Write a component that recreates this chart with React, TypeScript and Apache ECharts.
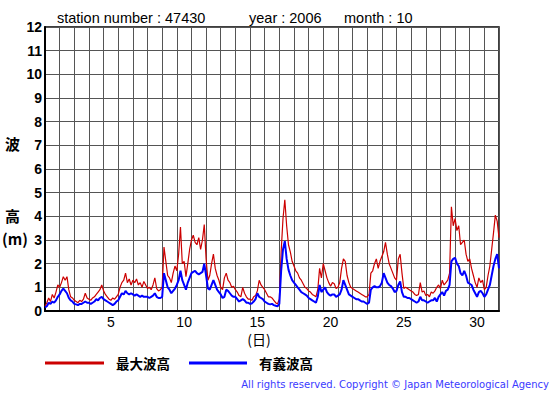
import React, { useEffect, useRef } from "react";
import * as echarts from "echarts";

// Day categories (1..31) for the x axis
const dayLabels = [
  "1","2","3","4","5","6","7","8","9","10","11","12","13","14","15","16",
  "17","18","19","20","21","22","23","24","25","26","27","28","29","30","31",
];

// samples every 3 hours (8 per day), last value = end of the month
const stepsPerDay = 8;

// 最大波高 (max wave height, m)
const maxWave = [
  0.2, 0.35, 0.55, 0.4, 0.7, 0.55, 0.8, 1.1,
  1.0, 1.2, 1.45, 1.3, 1.45, 0.9, 0.6, 0.55,
  0.45, 0.4, 0.35, 0.45, 0.4, 0.5, 0.75, 0.55,
  0.5, 0.45, 0.55, 0.6, 0.7, 0.8, 0.9, 1.1,
  0.85, 0.7, 0.6, 0.5, 0.45, 0.55, 0.5, 0.6,
  0.7, 1.0, 1.2, 1.3, 1.6, 1.2, 1.35, 1.1,
  1.3, 1.2, 1.35, 1.1, 1.2, 1.0, 1.25, 1.1,
  0.95, 1.0, 0.9, 1.1, 1.4, 0.95, 0.85, 0.9,
  1.0, 2.7, 2.1, 1.5, 1.4, 1.2, 1.6, 1.9,
  1.7, 2.4, 3.55, 2.0, 2.1, 1.45, 2.0, 2.6,
  3.0, 3.2, 2.9, 2.8, 3.1, 2.6, 3.0, 3.65,
  2.2, 1.3, 1.5, 2.0, 2.4, 1.8, 1.5, 1.3,
  1.0, 0.9, 1.4, 1.6, 1.3, 1.2, 1.0, 1.05,
  0.9, 0.8, 0.65, 0.6, 1.0, 0.75, 0.6, 0.5,
  0.5, 0.45, 0.6, 0.65, 0.85, 1.3, 1.1, 1.0,
  0.9, 0.75, 0.6, 0.6, 0.55, 0.45, 0.35, 0.3,
  0.5, 2.5, 3.9, 4.7, 3.6, 2.8, 2.5, 2.1,
  1.9, 1.7, 1.6, 1.4, 1.3, 1.15, 1.0, 0.95,
  0.85, 0.8, 0.7, 0.65, 0.6, 0.9, 1.8, 1.4,
  2.0, 1.7, 1.4, 1.2, 1.05, 1.2, 1.15, 0.95,
  1.0, 1.2, 1.8, 2.2, 2.1, 1.5, 1.2, 1.0,
  0.95, 0.9, 0.85, 0.8, 0.75, 0.7, 0.65, 0.6,
  0.6, 0.7, 1.6, 1.7, 2.0, 2.2, 1.8, 2.1,
  2.3, 2.5, 2.9, 2.4, 2.0, 1.8, 1.6, 1.4,
  1.3, 2.2, 2.4, 1.6, 0.95, 1.0, 0.95, 0.9,
  0.85, 0.8, 0.7, 0.65, 0.7, 1.2, 0.8, 0.85,
  0.65, 0.7, 0.6, 0.8, 0.75, 0.85, 1.0, 1.1,
  0.95, 1.3, 1.1, 1.2, 1.3, 1.6, 4.4, 3.6,
  3.9, 3.4, 3.6, 2.8, 2.9, 3.0, 2.4, 2.1,
  2.2, 1.8, 1.5, 1.2, 1.0, 1.4, 1.2, 1.3,
  0.9, 1.0, 1.5, 1.9, 2.6, 3.3, 4.05, 3.8, 3.1,
];

// 有義波高 (significant wave height, m)
const sigWave = [
  0.15, 0.2, 0.35, 0.3, 0.4, 0.35, 0.45, 0.6,
  0.7, 0.85, 0.95, 0.85, 0.75, 0.55, 0.45, 0.4,
  0.3, 0.28, 0.25, 0.3, 0.3, 0.35, 0.4, 0.35,
  0.35, 0.3, 0.35, 0.4, 0.5, 0.45, 0.55, 0.6,
  0.5, 0.45, 0.4, 0.35, 0.3, 0.25, 0.3, 0.4,
  0.45, 0.6, 0.75, 0.7, 0.85, 0.75, 0.7, 0.75,
  0.7, 0.65, 0.7, 0.65, 0.6, 0.65, 0.6, 0.6,
  0.6, 0.55, 0.6, 0.65, 0.75, 0.6, 0.55, 0.55,
  0.6, 1.6, 1.3, 1.0, 0.9, 0.75, 0.85, 0.95,
  1.1, 1.3, 1.7, 1.3, 1.1, 0.9, 1.2, 1.4,
  1.6, 1.65, 1.7, 1.6, 1.55, 1.6, 1.65, 2.0,
  1.5, 0.95, 0.9, 1.1, 1.3, 1.1, 0.9, 0.8,
  0.7, 0.55, 0.6, 0.9, 0.85, 0.75, 0.65, 0.6,
  0.6, 0.5, 0.4, 0.45, 0.5, 0.45, 0.35, 0.35,
  0.3, 0.32, 0.4, 0.5, 0.75, 0.6, 0.55, 0.5,
  0.4, 0.35, 0.3, 0.28, 0.3, 0.25, 0.22, 0.2,
  0.3, 1.7, 2.6, 2.95, 2.2, 1.75, 1.5, 1.3,
  1.2, 1.1, 1.0, 0.9, 0.8, 0.75, 0.7, 0.65,
  0.55, 0.5, 0.45, 0.4, 0.35, 0.6, 1.1, 0.8,
  0.9, 1.0, 0.8, 0.7, 0.65, 0.7, 0.7, 0.6,
  0.65, 0.7, 0.9, 1.3, 1.1, 0.9, 0.7, 0.65,
  0.6, 0.55, 0.5, 0.5, 0.45, 0.4, 0.4, 0.35,
  0.3, 0.35, 0.9, 1.0, 1.05, 1.0, 1.0, 1.05,
  1.2, 1.6, 1.4, 1.2, 1.1, 1.05, 0.95, 0.8,
  0.85, 1.1, 1.25, 0.8, 0.6, 0.6, 0.55, 0.55,
  0.5, 0.45, 0.4, 0.35, 0.4, 0.6, 0.45, 0.45,
  0.4, 0.35, 0.4, 0.45, 0.45, 0.55, 0.4, 0.6,
  0.7, 0.8, 0.65, 0.85, 0.9, 1.1, 2.1, 2.2,
  2.25, 2.0, 1.9, 1.6, 1.5, 1.7, 1.5, 1.2,
  1.15, 1.1, 0.9, 0.75, 0.6, 0.8, 0.85, 0.75,
  0.6, 0.7, 0.9, 1.1, 1.5, 1.9, 2.2, 2.4, 1.8,
];

const titleTexts = ["station number : 47430", "year : 2006", "month : 10"];
const legendNames = ["最大波高", "有義波高"];
const copyright = "All rights reserved. Copyright © Japan Meteorological Agency";

const RED = "#cc0000";
const BLUE = "#0000ff";
const CJK = '"Noto Sans CJK JP", sans-serif';
const SANS = '"Liberation Sans", Arial, sans-serif';

function toPoints(values: number[]) {
  return values.map((v, i) => [i / stepsPerDay, v]);
}

export default function App() {
  const ref = useRef<HTMLDivElement>(null);

  useEffect(() => {
    if (!ref.current) return;
    const chart = echarts.init(ref.current, null, { renderer: "svg" });
    const option: any = {
      animation: false,
      backgroundColor: "#fff",
      grid: {
        left: 45,
        top: 27,
        width: 454,
        height: 284,
        show: true,
        borderColor: "#000",
        borderWidth: 1.5,
      },
      xAxis: [
        {
          type: "category",
          data: dayLabels,
          boundaryGap: true,
          axisLine: { show: true, lineStyle: { color: "#000", width: 2 } },
          axisTick: { show: false },
          axisLabel: {
            interval: (i: number) => (i + 1) % 5 === 0,
            color: "#000",
            fontSize: 14,
            fontFamily: SANS,
            margin: 4,
          },
          splitLine: { show: true, interval: 0, lineStyle: { color: "#555", width: 1 } },
        },
        { type: "value", min: 0, max: 31, show: false },
      ],
      yAxis: {
        type: "value",
        min: 0,
        max: 12,
        interval: 1,
        axisLine: { show: true, lineStyle: { color: "#000", width: 2 } },
        axisTick: { show: false },
        axisLabel: {
          color: "#000",
          fontSize: 14,
          fontWeight: "bold",
          fontFamily: SANS,
          margin: 3,
        },
        splitLine: { show: true, lineStyle: { color: "#555", width: 1 } },
      },
      series: [
        {
          name: legendNames[0],
          type: "line",
          xAxisIndex: 1,
          data: toPoints(maxWave),
          symbol: "none",
          lineStyle: { color: RED, width: 1.2 },
        },
        {
          name: legendNames[1],
          type: "line",
          xAxisIndex: 1,
          data: toPoints(sigWave),
          symbol: "none",
          lineStyle: { color: BLUE, width: 2 },
        },
      ],
      graphic: [
        { type: "text", x: 57, y: 17.5, style: { text: titleTexts[0], font: `14.5px ${SANS}`, fill: "#000", textVerticalAlign: "middle" } },
        { type: "text", x: 249, y: 17.5, style: { text: titleTexts[1], font: `14.5px ${SANS}`, fill: "#000", textVerticalAlign: "middle" } },
        { type: "text", x: 344, y: 17.5, style: { text: titleTexts[2], font: `14.5px ${SANS}`, fill: "#000", textVerticalAlign: "middle" } },
        { type: "text", x: 12.5, y: 143, style: { text: "波", font: `bold 15px ${CJK}`, fill: "#000", textAlign: "center", textVerticalAlign: "middle" } },
        { type: "text", x: 12.5, y: 215, style: { text: "高", font: `bold 15px ${CJK}`, fill: "#000", textAlign: "center", textVerticalAlign: "middle" } },
        { type: "text", x: 2, y: 238, style: { text: "(m)", font: `bold 15px ${CJK}`, fill: "#000", textVerticalAlign: "middle" } },
        { type: "text", x: 259, y: 339, style: { text: "(日)", font: `14px ${CJK}`, fill: "#000", textAlign: "center", textVerticalAlign: "middle" } },
        { type: "line", shape: { x1: 45, y1: 363, x2: 104, y2: 363 }, style: { stroke: RED, lineWidth: 3 } },
        { type: "text", x: 116, y: 363, style: { text: legendNames[0], font: `bold 13.5px ${CJK}`, fill: "#000", textVerticalAlign: "middle" } },
        { type: "line", shape: { x1: 189, y1: 363, x2: 247, y2: 363 }, style: { stroke: BLUE, lineWidth: 3 } },
        { type: "text", x: 259, y: 363, style: { text: legendNames[1], font: `bold 13.5px ${CJK}`, fill: "#000", textVerticalAlign: "middle" } },
        { type: "text", x: 549, y: 384, style: { text: copyright, font: `10px "DejaVu Sans", sans-serif`, fill: "#3a3aff", textAlign: "right", textVerticalAlign: "middle" } },
      ],
    };
    chart.setOption(option);
    return () => chart.dispose();
  }, []);

  return (
    <div
      ref={ref}
      style={{ position: "fixed", left: 0, top: 0, width: 555, height: 395, background: "#fff" }}
    />
  );
}
